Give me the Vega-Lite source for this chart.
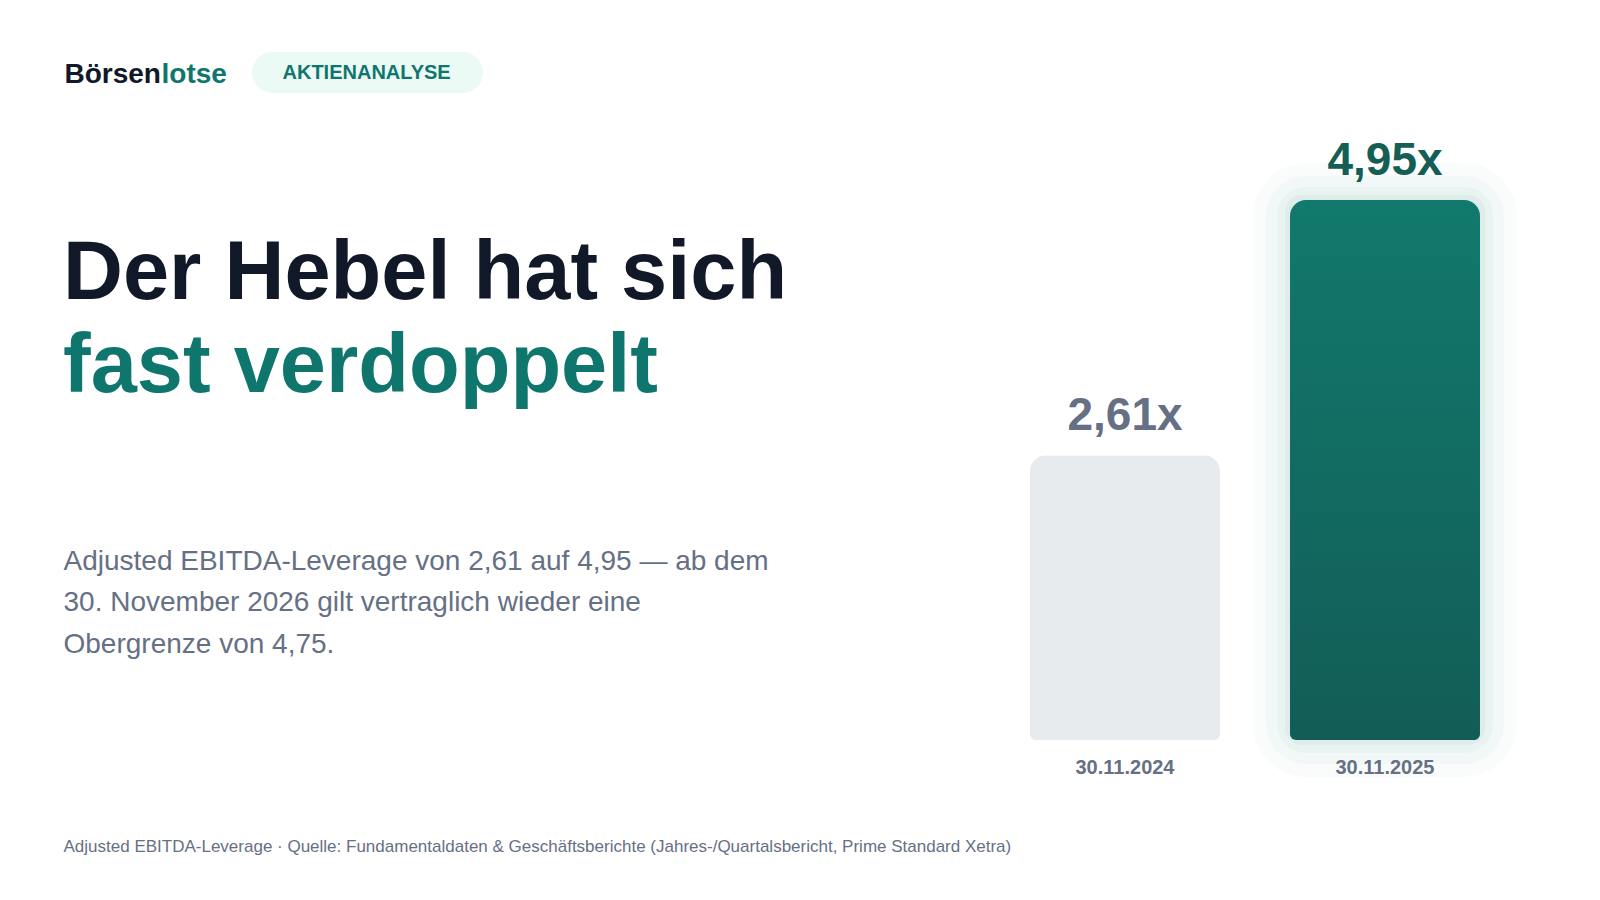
{
  "$schema": "https://vega.github.io/schema/vega-lite/v6.json",
  "width": 520,
  "height": 540,
  "autosize": {"type": "none"},
  "padding": {"left": 995, "top": 200, "right": 85, "bottom": 160},
  "background": "#FFFFFF",
  "data": {"values": [
    {"date": "30.11.2024", "value": 2.61, "label": "2,61x"},
    {"date": "30.11.2025", "value": 4.95, "label": "4,95x"}
  ]},
  "title": {
    "text": "Der Hebel hat sich",
    "subtitle": "fast verdoppelt",
    "anchor": "start",
    "frame": "group",
    "orient": "top",
    "font": "Liberation Sans",
    "fontSize": 83,
    "fontWeight": "bold",
    "color": "#111827",
    "subtitleFont": "Liberation Sans",
    "subtitleFontSize": 83,
    "subtitleFontWeight": "bold",
    "subtitleColor": "#0F766E",
    "subtitlePadding": 10,
    "dx": -932,
    "offset": -357
  },
  "encoding": {
    "x": {"field": "date", "type": "nominal", "axis": null, "scale": {"paddingInner": 0.26923, "paddingOuter": 0.13462}},
    "y": {"field": "value", "type": "quantitative", "axis": null, "scale": {"domain": [0, 4.95], "nice": false, "zero": true}}
  },
  "layer": [
    {
      "transform": [{"filter": "datum.date === '30.11.2025'"}],
      "mark": {"type": "bar", "fillOpacity": 0, "stroke": "#0F766E", "strokeOpacity": 0.02, "strokeWidth": 74, "strokeJoin": "round", "cornerRadius": 16, "yOffset": 22}
    },
    {
      "transform": [{"filter": "datum.date === '30.11.2025'"}],
      "mark": {"type": "bar", "fillOpacity": 0, "stroke": "#0F766E", "strokeOpacity": 0.03, "strokeWidth": 48, "strokeJoin": "round", "cornerRadius": 16, "yOffset": 20}
    },
    {
      "transform": [{"filter": "datum.date === '30.11.2025'"}],
      "mark": {"type": "bar", "fillOpacity": 0, "stroke": "#0F766E", "strokeOpacity": 0.04, "strokeWidth": 26, "strokeJoin": "round", "cornerRadius": 16, "yOffset": 18}
    },
    {
      "transform": [{"filter": "datum.date === '30.11.2025'"}],
      "mark": {"type": "bar", "fillOpacity": 0, "stroke": "#0F766E", "strokeOpacity": 0.05, "strokeWidth": 10, "strokeJoin": "round", "cornerRadius": 12, "yOffset": 14}
    },
    {
      "transform": [{"filter": "false"}],
      "mark": {"type": "bar", "color": "#ECFAF6"},
      "encoding": {
        "strokeDash": {"datum": "AKTIENANALYSE",
          "legend": {"orient": "none", "legendX": -648, "legendY": -148, "title": null,
            "padding": 0,
            "symbolType": "M -4.634,-1 L 4.634,-1 A 1,1 0 0 1 4.634,1 L -4.634,1 A 1,1 0 0 1 -4.634,-1 Z",
            "symbolSize": 1681, "symbolFillColor": "#ECFAF6", "symbolOpacity": 1, "symbolStrokeWidth": 0, "symbolStrokeColor": "#ECFAF6",
            "labelFont": "Liberation Sans", "labelFontSize": 20, "labelFontWeight": "bold", "labelColor": "#0F766E",
            "labelOffset": -105.5, "labelLimit": 400}}
      }
    },
    {
      "mark": {"type": "bar", "cornerRadiusTopLeft": 16, "cornerRadiusTopRight": 16, "cornerRadiusBottomLeft": 6, "cornerRadiusBottomRight": 6},
      "encoding": {
        "x": {"field": "date", "type": "nominal", "scale": {"paddingInner": 0.26923, "paddingOuter": 0.13462},
          "axis": {"orient": "bottom", "labels": false, "ticks": false, "domain": false, "grid": false,
            "title": "Adjusted EBITDA-Leverage · Quelle: Fundamentaldaten & Geschäftsberichte (Jahres-/Quartalsbericht, Prime Standard Xetra)",
            "titleX": -932, "titleY": 111, "titleAngle": 0, "titleAlign": "left", "titleBaseline": "alphabetic",
            "titleFont": "Liberation Sans", "titleFontSize": 17, "titleFontWeight": "normal", "titleColor": "#667085"}},
        "y": {"field": "value", "type": "quantitative", "scale": {"domain": [0, 4.95], "nice": false, "zero": true},
          "axis": {"orient": "left", "labels": false, "ticks": false, "domain": false, "grid": false,
            "title": ["Adjusted EBITDA-Leverage von 2,61 auf 4,95 — ab dem", "30. November 2026 gilt vertraglich wieder eine", "Obergrenze von 4,75."],
            "titleX": -932, "titleY": 369, "titleAngle": 0, "titleAlign": "left", "titleBaseline": "alphabetic",
            "titleLineHeight": 41.5,
            "titleFont": "Liberation Sans", "titleFontSize": 28, "titleFontWeight": "normal", "titleColor": "#667085"}},
        "color": {
          "condition": {"test": "datum.date === '30.11.2025'", "value": {"gradient": "linear", "x1": 0, "y1": 0, "x2": 0, "y2": 1, "stops": [{"offset": 0, "color": "#12796D"}, {"offset": 1, "color": "#125D56"}]}},
          "value": "#E7EBEE"
        }
      }
    },
    {
      "mark": {"type": "text", "baseline": "alphabetic", "align": "center", "dy": -25, "fontSize": 46, "fontWeight": "bold", "font": "Liberation Sans"},
      "encoding": {
        "x": {"field": "date", "type": "nominal", "scale": {"paddingInner": 0.26923, "paddingOuter": 0.13462},
          "axis": {"orient": "top", "labels": false, "ticks": false, "domain": false, "grid": false,
            "title": "Börsen", "titleX": -931, "titleY": -118, "titleAngle": 0, "titleAlign": "left", "titleBaseline": "alphabetic",
            "titleFont": "Liberation Sans", "titleFontSize": 28, "titleFontWeight": "bold", "titleColor": "#111827"}},
        "y": {"field": "value", "type": "quantitative", "scale": {"domain": [0, 4.95], "nice": false, "zero": true},
          "axis": {"orient": "right", "labels": false, "ticks": false, "domain": false, "grid": false,
            "title": "lotse", "titleX": -1354, "titleY": -118, "titleAngle": 0, "titleAlign": "left", "titleBaseline": "alphabetic",
            "titleFont": "Liberation Sans", "titleFontSize": 28, "titleFontWeight": "bold", "titleColor": "#0F766E"}},
        "text": {"field": "label", "type": "nominal"},
        "color": {"condition": {"test": "datum.date === '30.11.2025'", "value": "#145E56"}, "value": "#667085"}
      }
    },
    {
      "mark": {"type": "text", "baseline": "alphabetic", "align": "center", "dy": 34, "fontSize": 20, "fontWeight": "bold", "font": "Liberation Sans", "color": "#667085"},
      "encoding": {
        "y": {"datum": 0, "type": "quantitative", "axis": null},
        "text": {"field": "date", "type": "nominal"}
      }
    }
  ],
  "resolve": {"axis": {"x": "independent", "y": "independent"}},
  "config": {
    "font": "Liberation Sans",
    "view": {"stroke": null}
  }
}
